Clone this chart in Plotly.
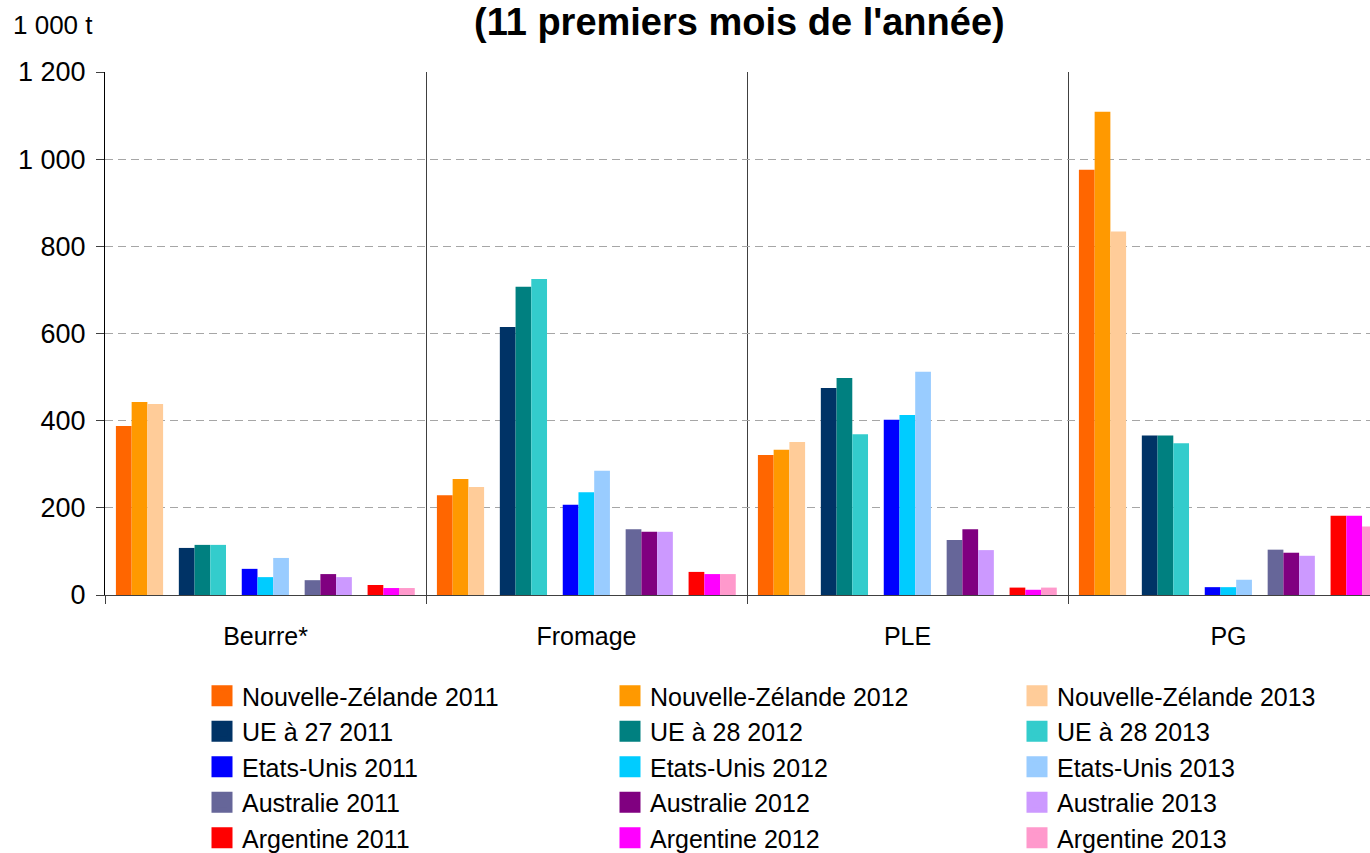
import plotly.graph_objects as go

# ---------------- data ----------------
categories = ["Beurre*", "Fromage", "PLE", "PG"]

nz_2011 = [388, 229, 321, 976]
nz_2012 = [443, 266, 333, 1109]
nz_2013 = [438, 248, 351, 834]
ue_2011 = [108, 615, 475, 366]
ue_2012 = [115, 707, 498, 366]
ue_2013 = [115, 725, 369, 348]
us_2011 = [60, 207, 402, 18]
us_2012 = [41, 236, 413, 18]
us_2013 = [85, 285, 512, 35]
au_2011 = [34, 151, 126, 104]
au_2012 = [48, 145, 151, 97]
au_2013 = [41, 145, 103, 90]
ar_2011 = [23, 53, 17, 182]
ar_2012 = [16, 48, 12, 182]
ar_2013 = [16, 48, 17, 157]

series_names = [
    ["Nouvelle-Zélande 2011", "Nouvelle-Zélande 2012", "Nouvelle-Zélande 2013"],
    ["UE à 27 2011", "UE à 28 2012", "UE à 28 2013"],
    ["Etats-Unis 2011", "Etats-Unis 2012", "Etats-Unis 2013"],
    ["Australie 2011", "Australie 2012", "Australie 2013"],
    ["Argentine 2011", "Argentine 2012", "Argentine 2013"],
]
series_values = [
    [nz_2011, nz_2012, nz_2013],
    [ue_2011, ue_2012, ue_2013],
    [us_2011, us_2012, us_2013],
    [au_2011, au_2012, au_2013],
    [ar_2011, ar_2012, ar_2013],
]
series_colors = [
    ["#FF6600", "#FF9900", "#FFCC99"],
    ["#003366", "#008080", "#33CCCC"],
    ["#0000FF", "#00CCFF", "#99CCFF"],
    ["#666699", "#800080", "#CC99FF"],
    ["#FF0000", "#FF00FF", "#FF99CC"],
]

y_tickvals = [0, 200, 400, 600, 800, 1000, 1200]
y_ticktext = ["0", "200", "400", "600", "800", "1 000", "1 200"]

FONT = "Liberation Sans, Arial, sans-serif"

# ---------------- layout geometry ----------------
W, H = 1370, 853
ML, MR, MT, MB = 105, 0, 72, 258
PW = W - ML - MR
PH = H - MT - MB
CAT_PX = 321.0

def px_to_xpaper(px):
    return (px - ML) / PW

def px_to_ypaper(py):
    return (H - MB - py) / PH

slot_w = 0.049
group_start = -0.466

fig = go.Figure()

# bars
for c in range(5):
    for yi in range(3):
        slot = c * 4 + yi
        fig.add_trace(go.Bar(
            x=categories,
            y=series_values[c][yi],
            name=series_names[c][yi],
            marker=dict(color=series_colors[c][yi], line=dict(width=0)),
            offset=group_start + slot * slot_w,
            width=slot_w,
            showlegend=False,
        ))

# legend entries (three column legends)
legend_ids = ["legend", "legend2", "legend3"]
for yi in range(3):
    for c in range(5):
        col = series_colors[c][yi]
        fig.add_trace(go.Scatter(
            x=[None], y=[None], mode="markers",
            name=series_names[c][yi],
            marker=dict(symbol="square", size=16, color=col,
                        line=dict(color=col, width=5)),
            legend=legend_ids[yi],
            showlegend=True,
            hoverinfo="skip",
        ))

legend_common = dict(
    orientation="v",
    xanchor="left", yanchor="top",
    y=px_to_ypaper(673),
    font=dict(family=FONT, size=25, color="#000000"),
    bgcolor="rgba(0,0,0,0)",
    borderwidth=0,
    tracegroupgap=0,
    itemclick=False,
)

fig.update_layout(
    width=W, height=H,
    autosize=False,
    margin=dict(l=ML, r=MR, t=MT, b=MB, pad=0, autoexpand=False),
    paper_bgcolor="white",
    plot_bgcolor="white",
    barmode="overlay",
    font=dict(family=FONT, size=25, color="#000000"),
    showlegend=True,
    legend=dict(x=px_to_xpaper(202), **legend_common),
    legend2=dict(x=px_to_xpaper(610), **legend_common),
    legend3=dict(x=px_to_xpaper(1017), **legend_common),
    xaxis=dict(
        type="category",
        categoryorder="array",
        categoryarray=categories,
        range=[-0.5, -0.5 + PW / CAT_PX],
        tickson="boundaries",
        ticks="outside",
        ticklen=8,
        tickcolor="#404040",
        showline=True,
        linecolor="#404040",
        linewidth=1,
        showgrid=True,
        gridcolor="#404040",
        gridwidth=1,
        tickfont=dict(family=FONT, size=25, color="#000000"),
        ticklabelstandoff=19,
        automargin=False,
        fixedrange=True,
    ),
    yaxis=dict(
        range=[0, 1200],
        tickvals=y_tickvals,
        ticktext=y_ticktext,
        ticks="outside",
        ticklen=8,
        tickcolor="#404040",
        showline=True,
        linecolor="#000000",
        linewidth=1,
        showgrid=True,
        gridcolor="#a6a6a6",
        gridwidth=1,
        griddash="8px,5px",
        zeroline=False,
        tickfont=dict(family=FONT, size=27, color="#000000"),
        ticklabelstandoff=5,
        automargin=False,
        fixedrange=True,
    ),
    annotations=[
        dict(
            text="(11 premiers mois de l'année)",
            xref="paper", yref="paper",
            x=px_to_xpaper(739), y=px_to_ypaper(-1),
            xanchor="center", yanchor="top",
            showarrow=False,
            font=dict(family=FONT, size=38, color="#000000", weight="bold"),
        ),
        dict(
            text="1 000 t",
            xref="paper", yref="paper",
            x=px_to_xpaper(11), y=px_to_ypaper(25),
            xanchor="left", yanchor="middle",
            showarrow=False,
            font=dict(family=FONT, size=26, color="#000000"),
        ),
    ],
)

fig.write_html(
    "out.html",
    config={"displayModeBar": False},
    post_script="document.body.style.margin='0';",
)
